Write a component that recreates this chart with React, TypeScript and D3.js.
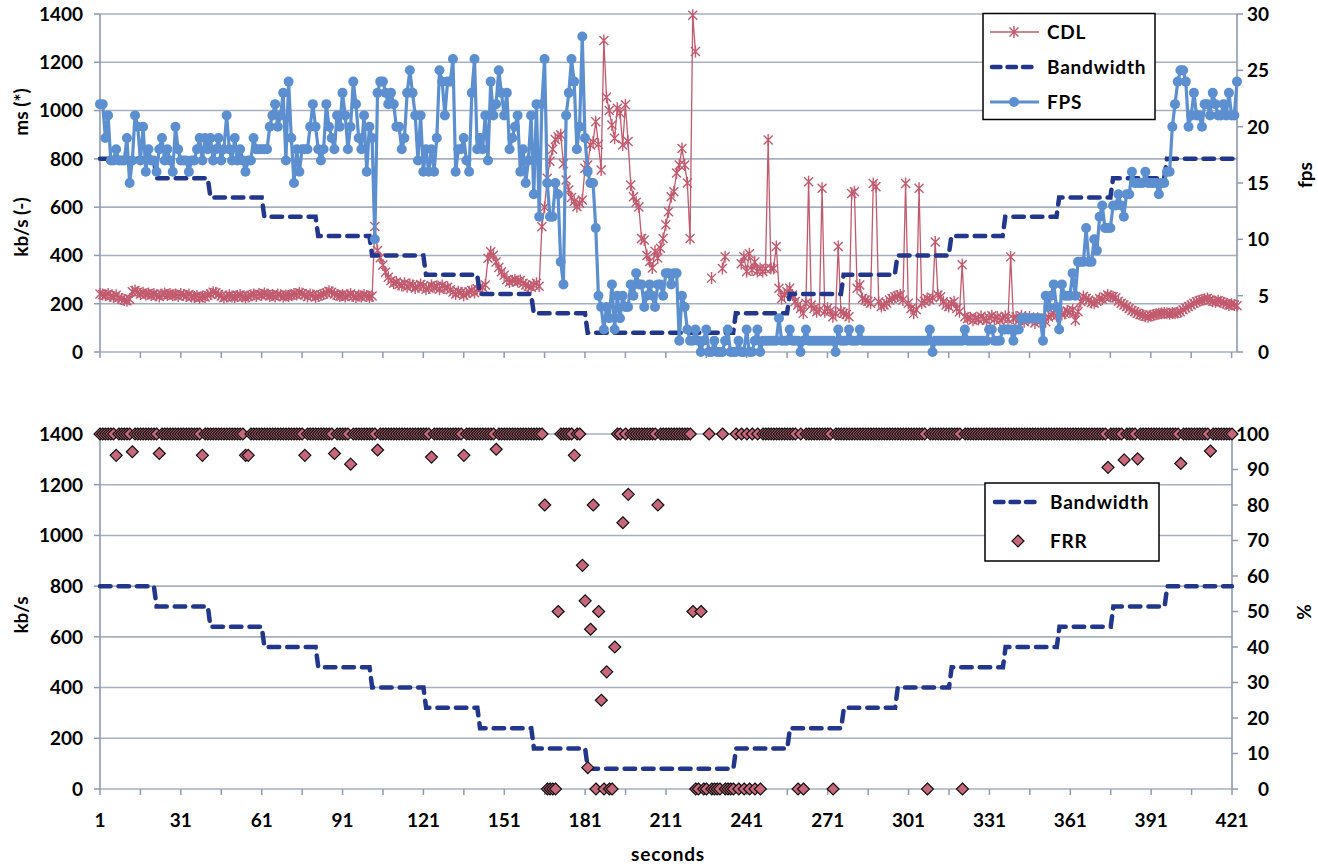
import React, { useEffect, useRef } from 'react'
import * as d3 from 'd3'

// frames per second, one value per second (1..423)
const fps = [
  22, 22, 19, 21, 17, 17, 18, 17, 17, 17,
  19, 15, 17, 21, 20, 17, 20, 16, 18, 17,
  17, 16, 18, 19, 17, 18, 17, 16, 20, 18,
  17, 17, 17, 16, 17, 17, 18, 19, 17, 19,
  18, 19, 17, 18, 19, 17, 18, 21, 18, 17,
  19, 17, 18, 17, 16, 17, 17, 19, 18, 18,
  18, 18, 18, 20, 21, 22, 20, 21, 23, 17,
  24, 19, 15, 18, 16, 18, 18, 18, 20, 22,
  20, 18, 17, 18, 22, 20, 19, 18, 21, 20,
  23, 21, 18, 20, 24, 22, 19, 18, 21, 16,
  20, 19, 10, 23, 24, 24, 23, 22, 23, 22,
  20, 20, 18, 19, 23, 25, 23, 21, 17, 21,
  16, 18, 16, 18, 16, 19, 25, 24, 21, 24,
  24, 26, 16, 18, 18, 19, 17, 16, 23, 26,
  18, 19, 18, 21, 17, 24, 21, 22, 25, 23,
  21, 23, 18, 19, 20, 21, 16, 18, 15, 17,
  21, 14, 22, 12, 22, 26, 15, 12, 12, 15,
  14, 8, 6, 21, 23, 26, 24, 18, 20, 28,
  19, 16, 15, 15, 11, 5, 4, 2, 4, 3,
  6, 2, 5, 3, 5, 4, 4, 6, 5, 7,
  6, 6, 4, 5, 6, 5, 4, 6, 6, 5,
  7, 7, 6, 7, 7, 1, 5, 4, 2, 1,
  1, 2, 1, 0, 1, 2, 0, 0, 1, 0,
  0, 0, 1, 2, 0, 0, 0, 1, 0, 0,
  2, 0, 0, 1, 2, 0, 1, 1, 1, 1,
  1, 1, 3, 1, 1, 1, 2, 1, 1, 1,
  0, 1, 2, 1, 1, 1, 1, 1, 1, 1,
  1, 1, 1, 0, 2, 1, 1, 1, 2, 1,
  1, 1, 2, 1, 1, 1, 1, 1, 1, 1,
  1, 1, 1, 1, 1, 1, 1, 1, 1, 1,
  1, 1, 1, 1, 1, 1, 1, 1, 2, 0,
  1, 1, 1, 1, 1, 1, 1, 1, 1, 1,
  1, 2, 1, 1, 1, 1, 1, 1, 1, 1,
  2, 2, 1, 1, 1, 2, 2, 2, 2, 1,
  2, 2, 3, 3, 3, 3, 3, 3, 3, 3,
  1, 5, 4, 5, 6, 4, 2, 6, 5, 5,
  5, 7, 5, 8, 8, 8, 11, 8, 8, 10,
  9, 12, 13, 11, 11, 11, 13, 13, 14, 13,
  12, 14, 14, 16, 15, 15, 15, 15, 16, 15,
  15, 15, 15, 14, 15, 15, 16, 16, 20, 22,
  24, 25, 25, 24, 20, 21, 23, 21, 21, 20,
  22, 22, 21, 23, 22, 21, 21, 22, 21, 23,
  21, 21, 24,
]

// CDL in ms, one value per second (1..423), null = no sample
const cdl: (number | null)[] = [
  240, 238, 235, 240, 232, 228, 235, 225, 220, 215,
  212, 218, 250, 255, 248, 240, 245, 238, 242, 236,
  240, 235, 230, 238, 242, 236, 240, 235, 238, 232,
  240, 236, 232, 238, 230, 228, 232, 225, 230, 228,
  235, 240, 248, 245, 238, 232, 225, 230, 235, 230,
  228, 232, 236, 230, 226, 230, 235, 238, 232, 240,
  236, 242, 238, 232, 236, 230, 238, 235, 230, 234,
  232, 236, 240, 238, 245, 242, 236, 230, 238, 235,
  228, 232, 236, 240, 244, 252, 248, 240, 236, 232,
  236, 230, 235, 240, 232, 228, 234, 230, 236, 232,
  228, 232, 520, 420, 390, 360, 330, 310, 295, 285,
  290, 280, 275, 285, 270, 280, 275, 265, 270, 280,
  272, 260, 265, 275, 268, 272, 260, 275, 265, 268,
  258, 248, 240, 250, 245, 235, 242, 250, 255, 245,
  262, 258, 268, 278, 388, 415, 401, 373, 350, 332,
  318, 300, 290, 295, 298, 292, 296, 285, 278, 272,
  268, 277, 285, 272, 519, 600, 720, 790, 840, 880,
  892, 900, 780, 712, 671, 640, 623, 602, 616, 630,
  761, 775, 857, 870, 954, 860, 754, 1290, 1055, 1000,
  940, 885, 1010, 990, 857, 1024, 872, 692, 643, 620,
  601, 470, 464, 400, 375, 348, 417, 389, 430, 470,
  527, 581, 643, 664, 741, 775, 843, 775, 700, 470,
  1395, 1245, null, null, null, null, null, 306, null, null,
  null, 346, 395, null, null, null, null, null, 366, 395,
  333, 407, 340, 373, 333, 346, 333, 345, 878, 346,
  346, 437, 264, 222, 236, 250, 264, 236, 209, 195,
  180, 160, 202, 705, 195, 180, 167, 175, 678, 167,
  181, 170, 146, 160, 437, 167, 160, 155, 146, 657,
  664, 264, 278, 222, 215, 210, 202, 698, 684, 208,
  188, 195, 202, 215, 222, 229, 232, 236, 215, 698,
  202, 180, 160, 175, 678, 202, 210, 222, 215, 225,
  456, 236, 229, 208, 195, 188, 200, 208, 180, 167,
  361, 146, 139, 142, 132, 140, 135, 148, 138, 130,
  142, 150, 136, 145, 132, 140, 148, 135, 394, 139,
  145, 130, 150, 125, 138, 145, 132, 120, 140, 128,
  135, 125, 145, 153, 160, 150, 167, 155, 160, 170,
  165, 174, 132, 167, 209, 230, 222, 215, 205, 202,
  210, 222, 218, 228, 236, 230, 229, 225, 210, 202,
  195, 188, 180, 172, 167, 160, 155, 153, 148, 146,
  150, 153, 156, 158, 160, 162, 160, 158, 162, 160,
  164, 167, 175, 182, 188, 195, 202, 208, 212, 215,
  218, 222, 215, 210, 208, 212, 208, 204, 200, 195,
  198, 195, 192,
]

// FRR in %, one value per second (1..421)
const frr = [
  100, 100, 100, 100, 100, 100, 94, 100, 100, 100, 100, 100, 95, 100, 100, 100, 100, 100, 100, 100,
  100, 100, 94.5, 100, 100, 100, 100, 100, 100, 100, 100, 100, 100, 100, 100, 100, 100, 100, 94, 100,
  100, 100, 100, 100, 100, 100, 100, 100, 100, 100, 100, 100, 100, 100, 94, 94, 100, 100, 100, 100,
  100, 100, 100, 100, 100, 100, 100, 100, 100, 100, 100, 100, 100, 100, 100, 100, 94, 100, 100, 100,
  100, 100, 100, 100, 100, 100, 100, 94.5, 100, 100, 100, 100, 100, 91.5, 100, 100, 100, 100, 100, 100,
  100, 100, 100, 95.5, 100, 100, 100, 100, 100, 100, 100, 100, 100, 100, 100, 100, 100, 100, 100, 100,
  100, 100, 100, 93.5, 100, 100, 100, 100, 100, 100, 100, 100, 100, 100, 100, 94, 100, 100, 100, 100,
  100, 100, 100, 100, 100, 100, 100, 95.7, 100, 100, 100, 100, 100, 100, 100, 100, 100, 100, 100, 100,
  100, 100, 100, 100, 100, 80, 0, 0, 0, 0, 50, 100, 100, 100, 100, 100, 94, 100, 100, 63,
  53, 6, 45, 80, 0, 50, 25, 0, 33, 0, 0, 40, 100, 100, 75, 100, 83, 100, 100, 100,
  100, 100, 100, 100, 100, 100, 100, 80, 100, 100, 100, 100, 100, 100, 100, 100, 100, 100, 100, 100,
  50, 0, 0, 50, 0, 0, 100, 0, 0, 0, 0, 100, 0, 0, 0, 0, 100, 0, 100, 0,
  100, 0, 100, 0, 100, 0, 100, 100, 100, 100, 100, 100, 100, 100, 100, 100, 100, 100, 100, 0,
  100, 0, 100, 100, 100, 100, 100, 100, 100, 100, 100, 100, 0, 100, 100, 100, 100, 100, 100, 100,
  100, 100, 100, 100, 100, 100, 100, 100, 100, 100, 100, 100, 100, 100, 100, 100, 100, 100, 100, 100,
  100, 100, 100, 100, 100, 100, 100, 0, 100, 100, 100, 100, 100, 100, 100, 100, 100, 100, 100, 100,
  0, 100, 100, 100, 100, 100, 100, 100, 100, 100, 100, 100, 100, 100, 100, 100, 100, 100, 100, 100,
  100, 100, 100, 100, 100, 100, 100, 100, 100, 100, 100, 100, 100, 100, 100, 100, 100, 100, 100, 100,
  100, 100, 100, 100, 100, 100, 100, 100, 100, 100, 100, 100, 100, 100, 90.6, 100, 100, 100, 100, 100,
  92.7, 100, 100, 100, 100, 93, 100, 100, 100, 100, 100, 100, 100, 100, 100, 100, 100, 100, 100, 100,
  100, 91.7, 100, 100, 100, 100, 100, 100, 100, 100, 100, 100, 95.2, 100, 100, 100, 100, 100, 100, 100,
  100,
]

// bandwidth steps: second at which each level starts, and the level in kb/s
const bwStartSec = [1, 22, 42, 62, 82, 102, 122, 142, 162, 182, 237, 257, 277, 297, 317, 337, 357, 377, 397]
const bwKbps = [800, 720, 640, 560, 480, 400, 320, 240, 160, 80, 160, 240, 320, 400, 480, 560, 640, 720, 800]

const kbTicks = [0, 200, 400, 600, 800, 1000, 1200, 1400]
const fpsTicks = [0, 5, 10, 15, 20, 25, 30]
const pctTicks = [0, 10, 20, 30, 40, 50, 60, 70, 80, 90, 100]
const secLabels = [1, 31, 61, 91, 121, 151, 181, 211, 241, 271, 301, 331, 361, 391, 421]

const FONT = 'Lato, "Open Sans", sans-serif'
const GRID = '#A7B0BF'
const AXIS = '#8E9AAE'
const CDL_COLOR = '#C25A6E'
const FPS_COLOR = '#5B8FD0'
const BW_COLOR = '#22378C'
const FRR_FILL = '#C8677A'
const FRR_EDGE = '#111'

const STAR = 'M-4.5,-4.5L4.5,4.5M-4.5,4.5L4.5,-4.5M0,-6L0,6'
const DIAMOND = 'M0,-6L6,0L0,6L-6,0Z'

function bwSeries(n: number) {
  const out: number[] = []
  for (let s = 1; s <= n; s++) {
    let v = bwKbps[0]
    bwStartSec.forEach((st, i) => { if (s >= st) v = bwKbps[i] })
    out.push(v)
  }
  return out
}

function App() {
  const svgRef = useRef<SVGSVGElement>(null)

  function drawFrame(g, x, yL, yR, leftVals, rightVals, x0, x1, yTop, yBot) {
    // grid
    g.selectAll('.grid').data(leftVals).join('line')
      .attr('x1', x0).attr('x2', x1)
      .attr('y1', d => yL(d)).attr('y2', d => yL(d))
      .attr('stroke', GRID).attr('stroke-width', 1.6)
    // left axis
    g.append('line').attr('x1', x0).attr('x2', x0).attr('y1', yTop).attr('y2', yBot)
      .attr('stroke', AXIS).attr('stroke-width', 1.6)
    g.append('g').selectAll('line').data(leftVals).join('line')
      .attr('x1', x0 - 6).attr('x2', x0).attr('y1', d => yL(d)).attr('y2', d => yL(d))
      .attr('stroke', AXIS).attr('stroke-width', 1.5)
    g.append('g').selectAll('text').data(leftVals).join('text')
      .attr('x', 83).attr('y', d => yL(d)).attr('dy', '0.36em')
      .attr('text-anchor', 'end').text(d => d)
    // right axis
    g.append('line').attr('x1', x1).attr('x2', x1).attr('y1', yTop).attr('y2', yBot)
      .attr('stroke', AXIS).attr('stroke-width', 1.6)
    g.append('g').selectAll('line').data(rightVals).join('line')
      .attr('x1', x1).attr('x2', x1 + 6).attr('y1', d => yR(d)).attr('y2', d => yR(d))
      .attr('stroke', AXIS).attr('stroke-width', 1.5)
    g.append('g').selectAll('text').data(rightVals).join('text')
      .attr('x', 1269).attr('y', d => yR(d)).attr('dy', '0.36em')
      .attr('text-anchor', 'end').text(d => d)
    // x ticks every 15 s
    const xt = d3.range(1, 422, 15)
    g.append('g').selectAll('line').data(xt).join('line')
      .attr('x1', d => x(d)).attr('x2', d => x(d)).attr('y1', yBot).attr('y2', yBot + 6)
      .attr('stroke', AXIS).attr('stroke-width', 1.5)
  }

  function drawChart(svg) {
    svg.attr('font-family', FONT).attr('font-weight', 'bold').attr('font-size', 19).attr('fill', '#000')

    // ---- top panel ----
    const xT = d3.scaleLinear().domain([1, fps.length]).range([100, 1237])
    const yT = d3.scaleLinear().domain([0, 1400]).range([352, 14])
    const yF = d3.scaleLinear().domain([0, 30]).range([352, 14])
    const top = svg.append('g')
    drawFrame(top, xT, yT, yF, kbTicks, fpsTicks, 100, 1237, 14, 352)

    const cdlLine = d3.line<number | null>()
      .defined(d => d != null)
      .x((d, i) => xT(i + 1)).y(d => yT(d as number))
    top.append('path').datum(cdl).attr('d', cdlLine)
      .attr('fill', 'none').attr('stroke', CDL_COLOR).attr('stroke-width', 1.3)
    top.append('g').selectAll('path')
      .data(cdl.map((v, i) => [i + 1, v]).filter(d => d[1] != null))
      .join('path')
      .attr('transform', d => `translate(${xT(d[0])},${yT(d[1])})`)
      .attr('d', STAR).attr('fill', 'none').attr('stroke', CDL_COLOR).attr('stroke-width', 1.4)

    const bwTop = bwSeries(fps.length)
    const bwLineT = d3.line<number>().x((d, i) => xT(i + 1)).y(d => yT(d))
    top.append('path').datum(bwTop).attr('d', bwLineT)
      .attr('fill', 'none').attr('stroke', BW_COLOR).attr('stroke-width', 4.5)
      .attr('stroke-dasharray', '10.5 8').attr('stroke-linecap', 'round')

    const fpsLine = d3.line<number>().x((d, i) => xT(i + 1)).y(d => yF(d))
    top.append('path').datum(fps).attr('d', fpsLine)
      .attr('fill', 'none').attr('stroke', FPS_COLOR).attr('stroke-width', 3.2).attr('stroke-linejoin', 'round')
    top.append('g').selectAll('circle').data(fps).join('circle')
      .attr('cx', (d, i) => xT(i + 1)).attr('cy', d => yF(d)).attr('r', 5)
      .attr('fill', FPS_COLOR)

    // legend top
    const lg = top.append('g')
    lg.append('rect').attr('x', 983).attr('y', 13.5).attr('width', 172).attr('height', 106)
      .attr('fill', '#fff').attr('stroke', '#000').attr('stroke-width', 1.5)
    lg.append('line').attr('x1', 990).attr('x2', 1039).attr('y1', 32).attr('y2', 32)
      .attr('stroke', CDL_COLOR).attr('stroke-width', 1.3)
    lg.append('path').attr('transform', 'translate(1014,32)').attr('d', STAR)
      .attr('fill', 'none').attr('stroke', CDL_COLOR).attr('stroke-width', 1.4)
    lg.append('line').attr('x1', 992).attr('x2', 1037).attr('y1', 67).attr('y2', 67)
      .attr('stroke', BW_COLOR).attr('stroke-width', 4.5)
      .attr('stroke-dasharray', '8.5 7').attr('stroke-linecap', 'round')
    lg.append('line').attr('x1', 990).attr('x2', 1039).attr('y1', 102).attr('y2', 102)
      .attr('stroke', FPS_COLOR).attr('stroke-width', 3)
    lg.append('circle').attr('cx', 1014).attr('cy', 102).attr('r', 5).attr('fill', FPS_COLOR)
    ;[['CDL', 32], ['Bandwidth', 67], ['FPS', 102]].forEach(([t, y]) => {
      lg.append('text').attr('x', 1047).attr('y', y).attr('dy', '0.36em')
        .attr('letter-spacing', 0.8).text(t)
    })

    // axis titles top
    svg.append('text').attr('transform', 'translate(28,112) rotate(-90)')
      .attr('text-anchor', 'middle').text('ms (*)')
    svg.append('text').attr('transform', 'translate(28,227) rotate(-90)')
      .attr('text-anchor', 'middle').text('kb/s (-)')
    svg.append('text').attr('transform', 'translate(1312,175) rotate(-90)')
      .attr('text-anchor', 'middle').text('fps')

    // ---- bottom panel ----
    const xB = d3.scaleLinear().domain([1, frr.length]).range([100, 1232])
    const yB = d3.scaleLinear().domain([0, 1400]).range([789, 434])
    const yP = d3.scaleLinear().domain([0, 100]).range([789, 434])
    const bot = svg.append('g')
    drawFrame(bot, xB, yB, yP, kbTicks, pctTicks, 100, 1232, 434, 789)

    const bwBot = bwSeries(frr.length)
    const bwLineB = d3.line<number>().x((d, i) => xB(i + 1)).y(d => yB(d))
    bot.append('path').datum(bwBot).attr('d', bwLineB)
      .attr('fill', 'none').attr('stroke', BW_COLOR).attr('stroke-width', 4.5)
      .attr('stroke-dasharray', '10.5 8').attr('stroke-linecap', 'round')

    bot.append('g').selectAll('path').data(frr).join('path')
      .attr('transform', (d, i) => `translate(${xB(i + 1)},${yP(d)})`)
      .attr('d', DIAMOND).attr('fill', FRR_FILL).attr('stroke', FRR_EDGE).attr('stroke-width', 1.2)

    bot.append('g').selectAll('text').data(secLabels).join('text')
      .attr('x', d => xB(d)).attr('y', 820).attr('dy', '0.36em')
      .attr('text-anchor', 'middle').text(d => d)

    // legend bottom
    const lb = bot.append('g')
    lb.append('rect').attr('x', 985).attr('y', 483).attr('width', 174).attr('height', 78)
      .attr('fill', '#fff').attr('stroke', '#000').attr('stroke-width', 1.5)
    lb.append('line').attr('x1', 995).attr('x2', 1040).attr('y1', 502).attr('y2', 502)
      .attr('stroke', BW_COLOR).attr('stroke-width', 4.5)
      .attr('stroke-dasharray', '8.5 7').attr('stroke-linecap', 'round')
    lb.append('path').attr('transform', 'translate(1018,541)').attr('d', DIAMOND)
      .attr('fill', FRR_FILL).attr('stroke', FRR_EDGE).attr('stroke-width', 1.2)
    lb.append('text').attr('x', 1050).attr('y', 502).attr('dy', '0.36em')
      .attr('letter-spacing', 0.8).text('Bandwidth')
    lb.append('text').attr('x', 1050).attr('y', 541).attr('dy', '0.36em')
      .attr('letter-spacing', 0.8).text('FRR')

    svg.append('text').attr('transform', 'translate(28,615) rotate(-90)')
      .attr('text-anchor', 'middle').text('kb/s')
    svg.append('text').attr('transform', 'translate(1311,612) rotate(-90)')
      .attr('text-anchor', 'middle').text('%')
    svg.append('text').attr('x', 668).attr('y', 854).attr('dy', '0.36em')
      .attr('text-anchor', 'middle').attr('letter-spacing', 0.8).text('seconds')
  }

  useEffect(() => {
    const svg = d3.select(svgRef.current)
    svg.selectAll('*').remove()
    drawChart(svg)
    return () => { svg.selectAll('*').remove() }
  }, [])

  return (
    <svg ref={svgRef} width={1318} height={866}
      style={{ position: 'absolute', left: 0, top: 0, background: '#fff' }} />
  )
}

export default App
